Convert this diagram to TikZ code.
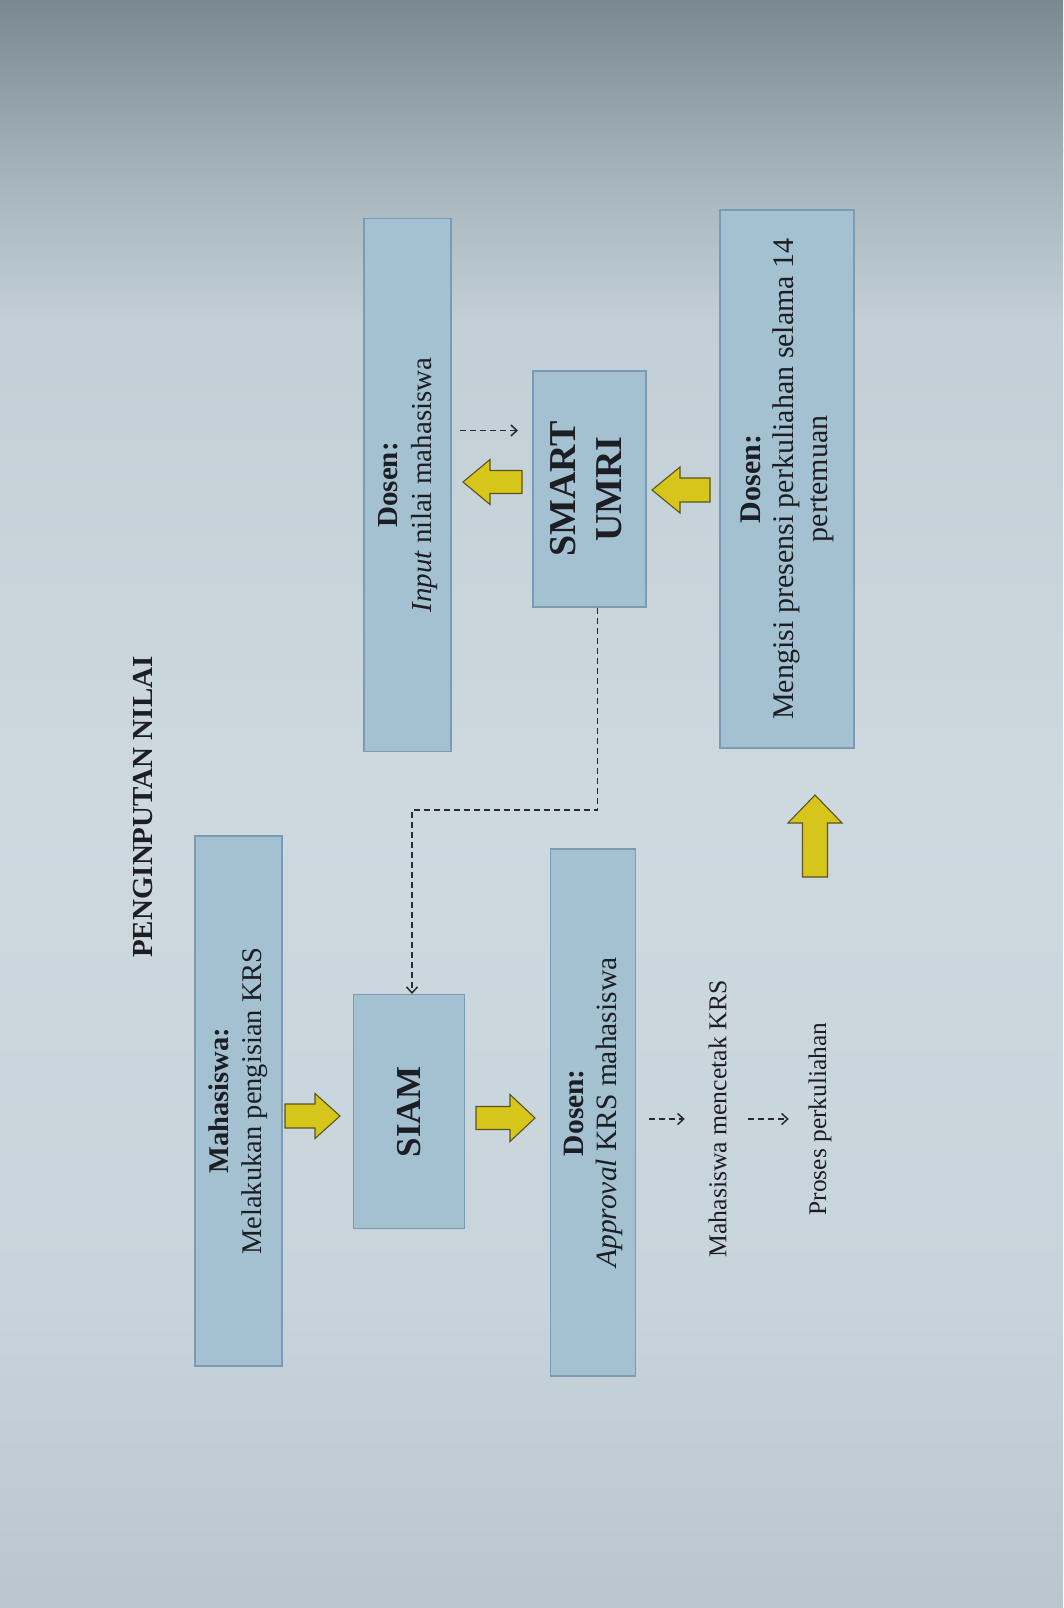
\documentclass[tikz,border=0pt]{standalone}
\usepackage{fontspec}
\setmainfont{Liberation Serif}
\usetikzlibrary{arrows.meta,calc}
\definecolor{ink}{RGB}{28,30,36}
\definecolor{boxfill}{RGB}{164,193,209}
\definecolor{boxline}{RGB}{122,155,178}
\definecolor{arrfill}{RGB}{214,198,28}
\definecolor{arrline}{RGB}{88,84,30}
\definecolor{dashcol}{RGB}{40,43,50}
\definecolor{bgA}{RGB}{122,137,144}
\definecolor{bgB}{RGB}{160,175,182}
\definecolor{bgC}{RGB}{194,207,214}
\definecolor{bgD}{RGB}{205,217,223}
\definecolor{bgE}{RGB}{200,212,219}
\definecolor{bgF}{RGB}{186,198,206}
\begin{document}
\begin{tikzpicture}[x=1pt,y=-1pt,
  box/.style={draw=boxline, fill=boxfill, line width=1.4pt, inner sep=0pt, text=ink},
  yarrow/.style={draw=arrline, fill=arrfill, line width=1.1pt, line join=miter},
  dline/.style={draw=dashcol, line width=1.8pt, dash pattern=on 6pt off 4pt},
  dtip/.style={-{Straight Barb[length=6pt,width=11pt,line width=1.5pt]}},
  lbl/.style={inner sep=0pt, text=ink}]
\useasboundingbox (0,0) rectangle (1063,1608);
% background (photographed page)
\shade[top color=bgA, bottom color=bgB] (0,0) rectangle (1063,151);
\shade[top color=bgB, bottom color=bgC] (0,150) rectangle (1063,321);
\shade[top color=bgC, bottom color=bgD] (0,320) rectangle (1063,801);
\shade[top color=bgD, bottom color=bgE] (0,800) rectangle (1063,1301);
\shade[top color=bgE, bottom color=bgF] (0,1300) rectangle (1063,1608);

% title
\node[lbl] (title) at (143.5,807) {\rotatebox{90}{\fontsize{29}{34}\selectfont\bfseries PENGINPUTAN NILAI}};

% boxes
\node[box, minimum width=87pt, minimum height=530pt] (mhs) at (238.3,1101)
  {\rotatebox{90}{\fontsize{28.5}{33}\selectfont\begin{tabular}{@{}c@{}}\textbf{Mahasiswa:}\\Melakukan pengisian KRS\end{tabular}}};
\node[box, minimum width=111pt, minimum height=234pt] (siam) at (409,1111.7)
  {\rotatebox{90}{\fontsize{35}{40}\selectfont\bfseries SIAM}};
\node[box, minimum width=85pt, minimum height=527pt] (appr) at (593,1112.6)
  {\rotatebox{90}{\fontsize{29.5}{33}\selectfont\begin{tabular}{@{}c@{}}\textbf{Dosen:}\\\textit{Approval} KRS mahasiswa\end{tabular}}};
\node[box, minimum width=87pt, minimum height=533pt] (inp) at (407.5,485)
  {\rotatebox{90}{\fontsize{29}{34}\selectfont\begin{tabular}{@{}c@{}}\textbf{Dosen:}\\\textit{Input} nilai mahasiswa\end{tabular}}};
\node[box, minimum width=113pt, minimum height=236pt] (smart) at (589.5,489)
  {\rotatebox{90}{\fontsize{38}{46}\selectfont\bfseries\begin{tabular}{@{}c@{}}SMART\\UMRI\end{tabular}}};
\node[box, minimum width=134pt, minimum height=538pt] (meng) at (786.8,479)
  {\rotatebox{90}{\fontsize{30}{33.5}\selectfont\begin{tabular}{@{}c@{}}\textbf{Dosen:}\\Mengisi presensi perkuliahan selama 14\\pertemuan\end{tabular}}};

% free texts
\node[lbl] (cetak) at (717.5,1119) {\rotatebox{90}{\fontsize{25.7}{30}\selectfont Mahasiswa mencetak KRS}};
\node[lbl] (proses) at (820,1119) {\rotatebox{90}{\fontsize{25.4}{30}\selectfont Proses perkuliahan}};

% yellow block arrows
\draw[yarrow] (285,1104) -- (315,1104) -- (315,1093.5) -- (340,1116) -- (315,1138.5) -- (315,1128) -- (285,1128) -- cycle;
\draw[yarrow] (476,1106.5) -- (510,1106.5) -- (510,1094.5) -- (535,1118) -- (510,1141.5) -- (510,1129.5) -- (476,1129.5) -- cycle;
\draw[yarrow] (522,470.5) -- (490,470.5) -- (490,459.5) -- (463,482) -- (490,504.5) -- (490,493.5) -- (522,493.5) -- cycle;
\draw[yarrow] (710,478) -- (680,478) -- (680,467) -- (652,490) -- (680,513) -- (680,502) -- (710,502) -- cycle;
\draw[yarrow] (802.5,877) -- (802.5,823) -- (788,823) -- (815,795) -- (842,823) -- (827.5,823) -- (827.5,877) -- cycle;

% dashed connectors
\coordinate (bend) at (412,810);
\draw[dline, dtip] ([xshift=8pt]smart.south) |- (bend) -- (bend |- siam.north);
\coordinate (ia) at (460,430.5);
\coordinate (ib) at (518,430.5);
\draw[dline, dtip] (ia) -- (ib);
\draw[dline, dtip, shorten <=12.5pt, shorten >=23.5pt] (appr.east |- cetak.west) -- (cetak.west);
\draw[dline, dtip, shorten <=21.5pt, shorten >=19.5pt] (cetak.east) -- (proses.west);
\end{tikzpicture}
\end{document}
